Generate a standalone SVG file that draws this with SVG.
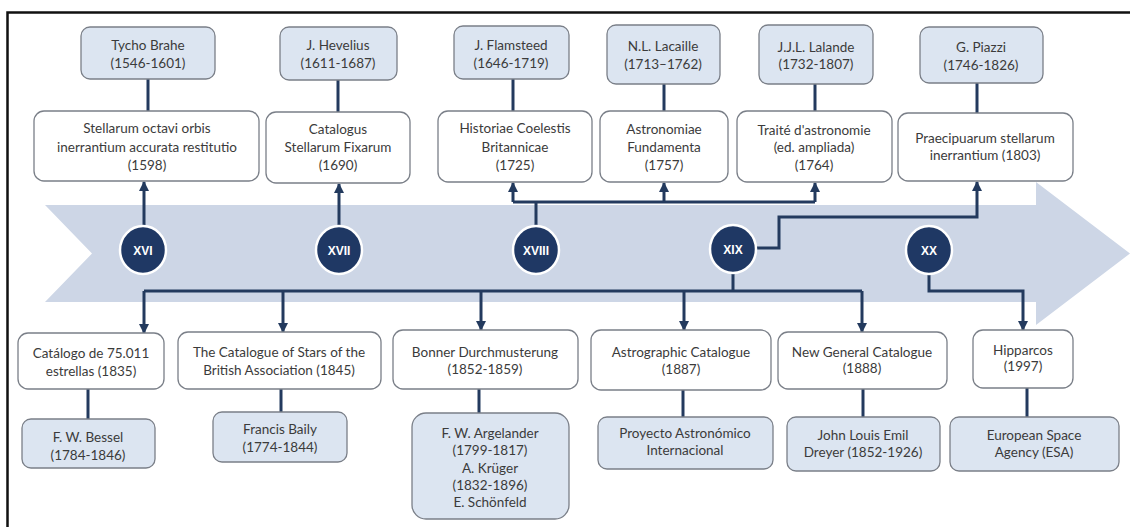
<svg xmlns="http://www.w3.org/2000/svg" width="1130" height="527" viewBox="0 0 1130 527">
<defs>
<style>
.bg{fill:#ffffff}
.band{fill:#cdd6e6}
.p{fill:#dce5f1;stroke:#7a7f88;stroke-width:1.3}
.b{fill:#ffffff;stroke:#7a7f88;stroke-width:1.3}
.t{font-family:Lato,"Open Sans","Liberation Sans",sans-serif;font-size:13.5px;fill:#3b3b3b;text-anchor:middle;dominant-baseline:central}
.c{fill:#1f3864;stroke:#ffffff;stroke-width:2.5}
.ct{font-family:"Liberation Sans",Arial,sans-serif;font-size:12px;font-weight:bold;fill:#ffffff;text-anchor:middle;dominant-baseline:central}
.ln{fill:none;stroke:#233a5e;stroke-width:3}
.ar{fill:none;stroke:#233a5e;stroke-width:3;marker-end:url(#ah)}
</style>
<marker id="ah" markerUnits="userSpaceOnUse" markerWidth="10" markerHeight="10" refX="9" refY="5" orient="auto">
<path d="M0,0 L10,5 L0,10 Z" fill="#233a5e"/>
</marker>
</defs>
<rect class="bg" x="0" y="0" width="1130" height="527"/>
<rect x="7.5" y="12.5" width="1200" height="600" fill="none" stroke="#111111" stroke-width="2.5"/>
<path class="band" d="M45,205 L1036,205 L1036,182 L1130,253.5 L1036,325 L1036,302 L45,302 L92,253.5 Z"/>

<g id="connectors">
<path class="ln" d="M148,79 V111"/>
<path class="ln" d="M338,80 V112"/>
<path class="ln" d="M513,79 V111"/>
<path class="ln" d="M664,84 V111"/>
<path class="ln" d="M815,84 V111"/>
<path class="ln" d="M977,83 V113"/>
<path class="ar" d="M144,228 V182"/>
<path class="ar" d="M339,228 V184"/>
<path class="ln" d="M536,226 V202 M513,202 H815"/>
<path class="ar" d="M513,202 V183"/>
<path class="ar" d="M664,202 V183"/>
<path class="ar" d="M815,202 V183"/>
<path class="ar" d="M756,248 H779 V217 H977 V182"/>
<path class="ln" d="M733,273 V291 M144,291 H862"/>
<path class="ar" d="M144,291 V333"/>
<path class="ar" d="M283,291 V332"/>
<path class="ar" d="M481,291 V330"/>
<path class="ar" d="M684,291 V330"/>
<path class="ar" d="M862,291 V332"/>
<path class="ar" d="M929,274 V291 H1023 V330"/>
<path class="ln" d="M88,389 V419"/>
<path class="ln" d="M281,389 V412"/>
<path class="ln" d="M479,389 V413"/>
<path class="ln" d="M683,390 V417"/>
<path class="ln" d="M863,389 V417"/>
<path class="ln" d="M1027,388 V417"/>
</g>

<g id="c16"><ellipse class="c" cx="143" cy="250" rx="23" ry="24"/><text class="ct" x="143" y="251">XVI</text></g>
<g id="c17"><ellipse class="c" cx="339" cy="250" rx="23" ry="24"/><text class="ct" x="339" y="251">XVII</text></g>
<g id="c18"><ellipse class="c" cx="536" cy="250" rx="23" ry="24"/><text class="ct" x="536" y="251">XVIII</text></g>
<g id="c19"><ellipse class="c" cx="733" cy="249" rx="23" ry="24"/><text class="ct" x="733" y="250">XIX</text></g>
<g id="c20"><ellipse class="c" cx="929" cy="250" rx="23" ry="24"/><text class="ct" x="929" y="251">XX</text></g>

<g id="tycho"><rect class="p" x="81" y="27" width="134" height="52" rx="9"/><text class="t" x="148" y="45">Tycho Brahe</text><text class="t" x="148" y="63">(1546-1601)</text></g>
<g id="hevelius"><rect class="p" x="280" y="27" width="117" height="53" rx="9"/><text class="t" x="338" y="45">J. Hevelius</text><text class="t" x="338" y="63">(1611-1687)</text></g>
<g id="flamsteed"><rect class="p" x="454" y="26" width="115" height="53" rx="9"/><text class="t" x="511" y="45">J. Flamsteed</text><text class="t" x="511" y="63">(1646-1719)</text></g>
<g id="lacaille"><rect class="p" x="607" y="25" width="113" height="59" rx="9"/><text class="t" x="663" y="46">N.L. Lacaille</text><text class="t" x="663" y="64">(1713–1762)</text></g>
<g id="lalande"><rect class="p" x="759" y="25" width="114" height="59" rx="9"/><text class="t" x="816" y="47">J.J.L. Lalande</text><text class="t" x="816" y="64">(1732-1807)</text></g>
<g id="piazzi"><rect class="p" x="920" y="27" width="123" height="56" rx="9"/><text class="t" x="981" y="47">G. Piazzi</text><text class="t" x="981" y="65">(1746-1826)</text></g>

<g id="stellarum"><rect class="b" x="34" y="111" width="225" height="70" rx="10"/><text class="t" x="147" y="128">Stellarum octavi orbis</text><text class="t" x="147" y="147">inerrantium  accurata restitutio</text><text class="t" x="147" y="165">(1598)</text></g>
<g id="catalogus"><rect class="b" x="266" y="112" width="144" height="71" rx="10"/><text class="t" x="338" y="129">Catalogus</text><text class="t" x="338" y="147">Stellarum Fixarum</text><text class="t" x="338" y="165">(1690)</text></g>
<g id="historiae"><rect class="b" x="438" y="111" width="154" height="71" rx="10"/><text class="t" x="515" y="128">Historiae Coelestis</text><text class="t" x="515" y="147">Britannicae</text><text class="t" x="515" y="165">(1725)</text></g>
<g id="astronomiae"><rect class="b" x="600" y="111" width="128" height="71" rx="10"/><text class="t" x="664" y="129">Astronomiae</text><text class="t" x="664" y="147">Fundamenta</text><text class="t" x="664" y="165">(1757)</text></g>
<g id="traite"><rect class="b" x="737" y="111" width="155" height="71" rx="10"/><text class="t" x="814" y="130">Traité d'astronomie</text><text class="t" x="814" y="147">(ed. ampliada)</text><text class="t" x="814" y="165">(1764)</text></g>
<g id="praecipuarum"><rect class="b" x="898" y="113" width="175" height="68" rx="10"/><text class="t" x="985" y="138">Praecipuarum  stellarum</text><text class="t" x="985" y="155">inerrantium  (1803)</text></g>

<g id="catalogo"><rect class="b" x="18" y="333" width="146" height="56" rx="10"/><text class="t" x="91" y="353">Catálogo de 75.011</text><text class="t" x="91" y="371">estrellas (1835)</text></g>
<g id="british"><rect class="b" x="178" y="332" width="203" height="57" rx="10"/><text class="t" x="279" y="352">The Catalogue of Stars of the</text><text class="t" x="279" y="370">British Association (1845)</text></g>
<g id="bonner"><rect class="b" x="393" y="330" width="185" height="59" rx="10"/><text class="t" x="485" y="352">Bonner Durchmusterung</text><text class="t" x="485" y="369">(1852-1859)</text></g>
<g id="astrographic"><rect class="b" x="591" y="330" width="180" height="60" rx="10"/><text class="t" x="681" y="352">Astrographic Catalogue</text><text class="t" x="681" y="369">(1887)</text></g>
<g id="ngc"><rect class="b" x="778" y="332" width="169" height="57" rx="10"/><text class="t" x="862" y="352">New General Catalogue</text><text class="t" x="862" y="368">(1888)</text></g>
<g id="hipparcos"><rect class="b" x="973" y="330" width="100" height="58" rx="10"/><text class="t" x="1023" y="350">Hipparcos</text><text class="t" x="1023" y="366">(1997)</text></g>

<g id="bessel"><rect class="p" x="22" y="419" width="133" height="49" rx="9"/><text class="t" x="88" y="437">F. W. Bessel</text><text class="t" x="88" y="455">(1784-1846)</text></g>
<g id="baily"><rect class="p" x="213" y="412" width="134" height="50" rx="9"/><text class="t" x="280" y="429">Francis Baily</text><text class="t" x="280" y="447">(1774-1844)</text></g>
<g id="argelander"><rect class="p" x="412" y="413" width="157" height="106" rx="14"/><text class="t" x="490" y="433">F. W. Argelander</text><text class="t" x="490" y="450">(1799-1817)</text><text class="t" x="490" y="468">A. Krüger</text><text class="t" x="490" y="485">(1832-1896)</text><text class="t" x="490" y="502">E. Schönfeld</text></g>
<g id="proyecto"><rect class="p" x="598" y="417" width="175" height="52" rx="9"/><text class="t" x="685" y="433">Proyecto Astronómico</text><text class="t" x="685" y="450">Internacional</text></g>
<g id="dreyer"><rect class="p" x="787" y="417" width="153" height="54" rx="9"/><text class="t" x="863" y="435">John  Louis  Emil</text><text class="t" x="863" y="452">Dreyer (1852-1926)</text></g>
<g id="esa"><rect class="p" x="950" y="417" width="169" height="54" rx="9"/><text class="t" x="1034" y="435">European  Space</text><text class="t" x="1034" y="452">Agency  (ESA)</text></g>
</svg>
